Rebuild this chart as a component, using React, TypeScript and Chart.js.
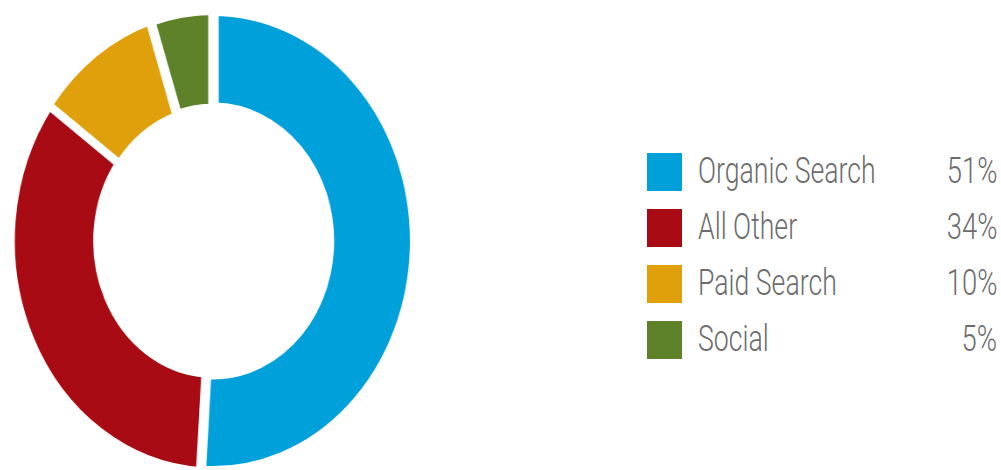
import React, { useEffect, useRef } from "react";
import { Chart, registerables } from "chart.js";

Chart.register(...registerables);

const categories = ["Organic Search", "All Other", "Paid Search", "Social"];
const values = [51, 34, 10, 5];
const valueLabels = ["51%", "34%", "10%", "5%"];
const colors = ["#00A0DB", "#A80B13", "#DFA00C", "#5E8229"];
const gapWidths = [13, 10, 8, 11];

export default function App() {
  const ref = useRef<HTMLCanvasElement | null>(null);
  useEffect(() => {
    if (!ref.current) return;
    const chart = new Chart(ref.current, {
      type: "doughnut",
      data: {
        labels: categories,
        datasets: [
          {
            data: values,
            backgroundColor: colors,
            borderColor: "#ffffff",
            borderWidth: gapWidths,
            hoverOffset: 0,
          },
        ],
      },
      options: {
        responsive: false,
        animation: false,
        cutout: "57%",
        rotation: 0,
        layout: { padding: 0 },
        plugins: { legend: { display: false }, tooltip: { enabled: false } },
      },
    });
    return () => chart.destroy();
  }, []);

  const size = 476;
  const textStyle = {
    position: "absolute" as const,
    height: 44,
    lineHeight: "44px",
    fontFamily: "Roboto, sans-serif",
    fontWeight: 300,
    fontSize: 37,
    color: "#6c6c6c",
    whiteSpace: "nowrap" as const,
  };
  return (
    <div style={{ position: "fixed", left: 0, top: 0, width: 1001, height: 470, background: "#fff", overflow: "hidden" }}>
      <div
        style={{
          position: "absolute",
          left: 212.5 - size / 2,
          top: 241 - size / 2,
          width: size,
          height: size,
          transform: "scaleX(0.875)",
          transformOrigin: "center center",
        }}
      >
        <canvas ref={ref} width={size} height={size} style={{ display: "block" }} />
      </div>
      {categories.map((c, i) => (
        <React.Fragment key={c}>
          <div
            style={{
              position: "absolute",
              left: 647,
              top: 153 + i * 56,
              width: 35,
              height: 38,
              background: colors[i],
            }}
          />
          <div
            style={{
              ...textStyle,
              left: 698,
              top: 149 + i * 56,
              transform: "scaleX(0.72)",
              transformOrigin: "left center",
            }}
          >
            {c}
          </div>
          <div
            style={{
              ...textStyle,
              right: 4,
              top: 149 + i * 56,
              transform: "scaleX(0.74)",
              transformOrigin: "right center",
            }}
          >
            {valueLabels[i]}
          </div>
        </React.Fragment>
      ))}
    </div>
  );
}
